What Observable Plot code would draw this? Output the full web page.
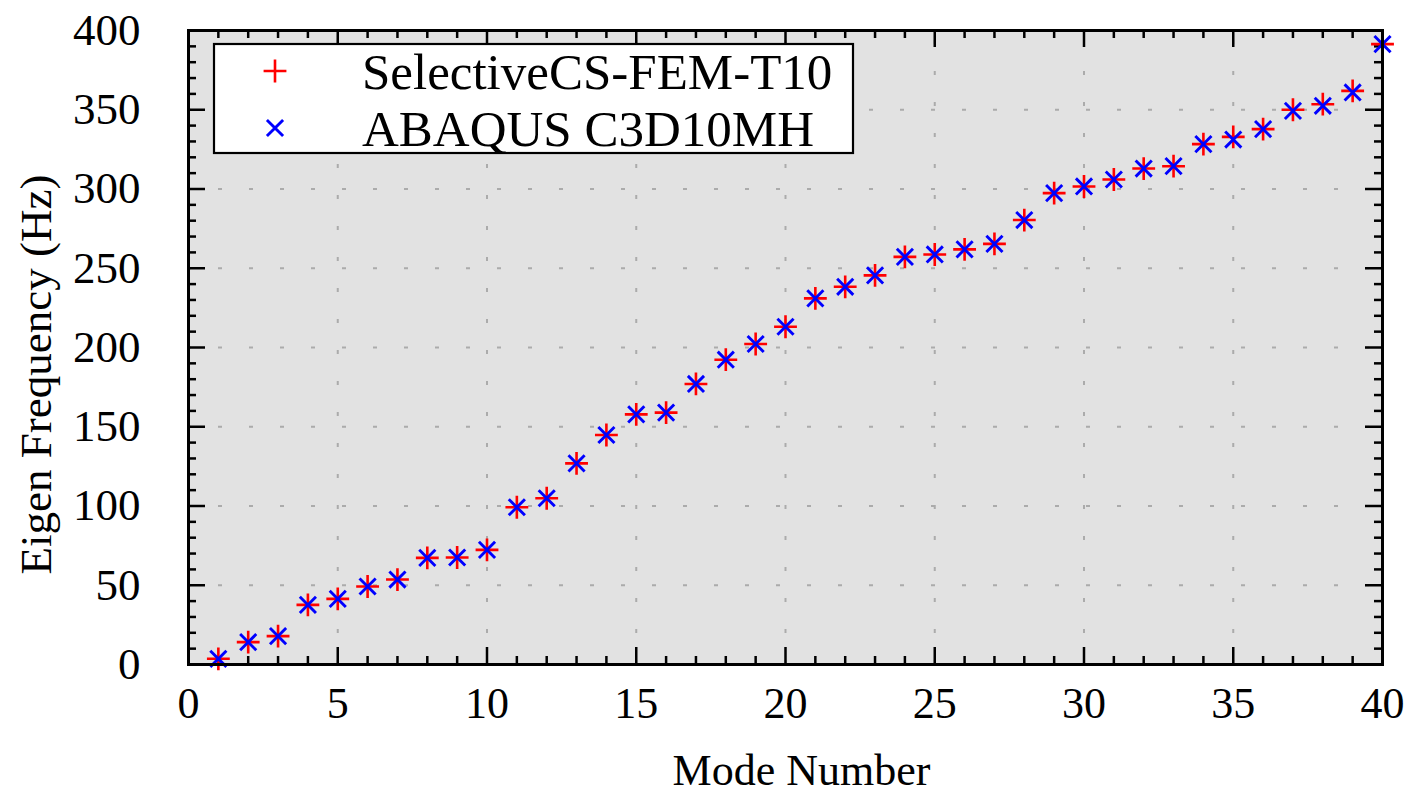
<!DOCTYPE html>
<html><head><meta charset="utf-8">
<script src="https://cdn.jsdelivr.net/npm/d3@7"></script>
<script src="https://cdn.jsdelivr.net/npm/@observablehq/plot@0.6"></script>
<style>
body{margin:0;background:#fff}
#chart{width:1412px;height:796px}
</style>
</head><body><div id="chart"></div>
<script>
// ---- data ----
const modes = [1,2,3,4,5,6,7,8,9,10,11,12,13,14,15,16,17,18,19,20,21,22,23,24,25,26,27,28,29,30,31,32,33,34,35,36,37,38,39,40];
const selectiveCS = [3.6,14.1,17.9,37.6,41.4,49.2,53.6,67.3,67.5,72.3,99.2,104.9,126.9,144.8,157.8,158.9,177.0,192.3,202.2,213.1,231.0,238.3,245.5,257.2,258.7,261.9,265.4,280.4,297.4,301.6,306.0,312.9,314.4,328.3,332.9,337.8,350.0,353.5,361.9,391.4];
const abaqus = [3.6,14.1,17.9,37.6,41.4,49.2,53.6,67.3,67.5,72.3,99.2,104.9,126.9,144.8,157.8,158.9,177.0,192.3,202.2,213.1,231.0,238.3,245.5,257.2,258.7,261.9,265.4,280.4,297.4,301.6,306.0,312.9,314.4,328.3,331.2,337.8,349.3,352.5,360.9,391.4];
const seriesNames = ["SelectiveCS-FEM-T10", "ABAQUS C3D10MH"];
const xTicks = [0,5,10,15,20,25,30,35,40];
const yTicks = [0,50,100,150,200,250,300,350,400];
const xMinor = [1,2,3,4,6,7,8,9,11,12,13,14,16,17,18,19,21,22,23,24,26,27,28,29,31,32,33,34,36,37,38,39];
const yMinor = [10,20,30,40,60,70,80,90,110,120,130,140,160,170,180,190,210,220,230,240,260,270,280,290,310,320,330,340,360,370,380,390];
const xLabel = "Mode Number";
const yLabel = "Eigen Frequency (Hz)";

// ---- layout ----
const W = 1412, H = 796, mL = 188, mR = 30, mT = 30, mB = 132;
const xDom = [0, 40], yDom = [0, 400];
const pxX = (xDom[1]-xDom[0]) / (W - mL - mR);
const pxY = (yDom[1]-yDom[0]) / (H - mT - mB);
const majorLen = 17, minorLen = 8;
const tickStyle = {stroke: "black", strokeWidth: 2.5};
const gridStyle = {stroke: "#ababab", strokeWidth: 2, strokeDasharray: "4,27", strokeDashoffset: 1};
const inner = (arr, d) => arr.filter(v => v > d[0] && v < d[1]);
const serif = "'Liberation Serif', 'Times New Roman', serif";
const plusR = 7.4, timesR = 7.4;

const tableA = modes.map((m, i) => ({mode: m, f: selectiveCS[i]}));
const tableB = modes.map((m, i) => ({mode: m, f: abaqus[i]}));

const plot = Plot.plot({
  width: W, height: H,
  marginLeft: mL, marginRight: mR, marginTop: mT, marginBottom: mB,
  x: {domain: xDom},
  y: {domain: yDom},
  style: {fontFamily: serif, fontSize: "44px", color: "black", background: "white"},
  marks: [
    Plot.frame({fill: "#e2e2e2", stroke: null}),
    Plot.ruleY(inner(yTicks, yDom), gridStyle),
    Plot.ruleX(inner(xTicks, xDom), {...gridStyle, strokeDashoffset: 21}),
    // inward ticks: bottom/top
    Plot.ruleX(inner(xTicks, xDom), {x: d => d, y1: yDom[0], y2: yDom[0] + majorLen*pxY, ...tickStyle}),
    Plot.ruleX(xMinor, {x: d => d, y1: yDom[0], y2: yDom[0] + minorLen*pxY, ...tickStyle}),
    Plot.ruleX(inner(xTicks, xDom), {x: d => d, y1: yDom[1], y2: yDom[1] - majorLen*pxY, ...tickStyle}),
    Plot.ruleX(xMinor, {x: d => d, y1: yDom[1], y2: yDom[1] - minorLen*pxY, ...tickStyle}),
    // inward ticks: left/right
    Plot.ruleY(inner(yTicks, yDom), {y: d => d, x1: xDom[0], x2: xDom[0] + majorLen*pxX, ...tickStyle}),
    Plot.ruleY(yMinor, {y: d => d, x1: xDom[0], x2: xDom[0] + minorLen*pxX, ...tickStyle}),
    Plot.ruleY(inner(yTicks, yDom), {y: d => d, x1: xDom[1], x2: xDom[1] - majorLen*pxX, ...tickStyle}),
    Plot.ruleY(yMinor, {y: d => d, x1: xDom[1], x2: xDom[1] - minorLen*pxX, ...tickStyle}),
    Plot.axisX(xTicks, {tickSize: 0, tickPadding: 22, label: null, fontSize: 44}),
    Plot.axisY(yTicks, {tickSize: 0, tickPadding: 48, label: null, fontSize: 45}),
    Plot.dot(tableA, {x: "mode", y: "f", symbol: "plus", r: plusR, stroke: "#ff0000", strokeWidth: 2.6}),
    Plot.dot(tableB, {x: "mode", y: "f", symbol: "times", r: timesR, stroke: "#0000ff", strokeWidth: 2.9}),
    Plot.frame({stroke: "black", strokeWidth: 3}),
    Plot.text([xLabel], {frameAnchor: "bottom", textAnchor: "middle", dx: 16, dy: 120, lineAnchor: "bottom", fontSize: 44}),
    Plot.text([yLabel], {frameAnchor: "left", textAnchor: "middle", lineAnchor: "middle", rotate: -90, dx: -152, dy: 27, fontSize: 45})
  ]
});

document.getElementById("chart").appendChild(plot);

// ---- legend (inside the plot area, top-left) ----
const svg = d3.select(plot);
const lg = svg.append("g").attr("class", "legend");
lg.append("rect").attr("x", 214).attr("y", 44).attr("width", 639).attr("height", 109)
  .attr("fill", "white").attr("stroke", "black").attr("stroke-width", 2.2);
const legendItems = [
  {name: seriesNames[0], sym: d3.symbolPlus, size: plusR*plusR*Math.PI, color: "#ff0000", sw: 2.6},
  {name: seriesNames[1], sym: d3.symbolTimes, size: timesR*timesR*Math.PI, color: "#0000ff", sw: 2.9}
];
legendItems.forEach((it, i) => {
  const cy = 71 + i * 57;
  lg.append("path").attr("d", d3.symbol(it.sym, it.size)())
    .attr("transform", `translate(275,${cy})`)
    .attr("fill", "none").attr("stroke", it.color).attr("stroke-width", it.sw);
  lg.append("text").attr("x", 362).attr("y", cy).attr("dy", "0.35em")
    .attr("text-anchor", "start").attr("font-family", serif)
    .attr("font-size", 51).attr("fill", "black").text(it.name);
});
</script>
</body></html>
